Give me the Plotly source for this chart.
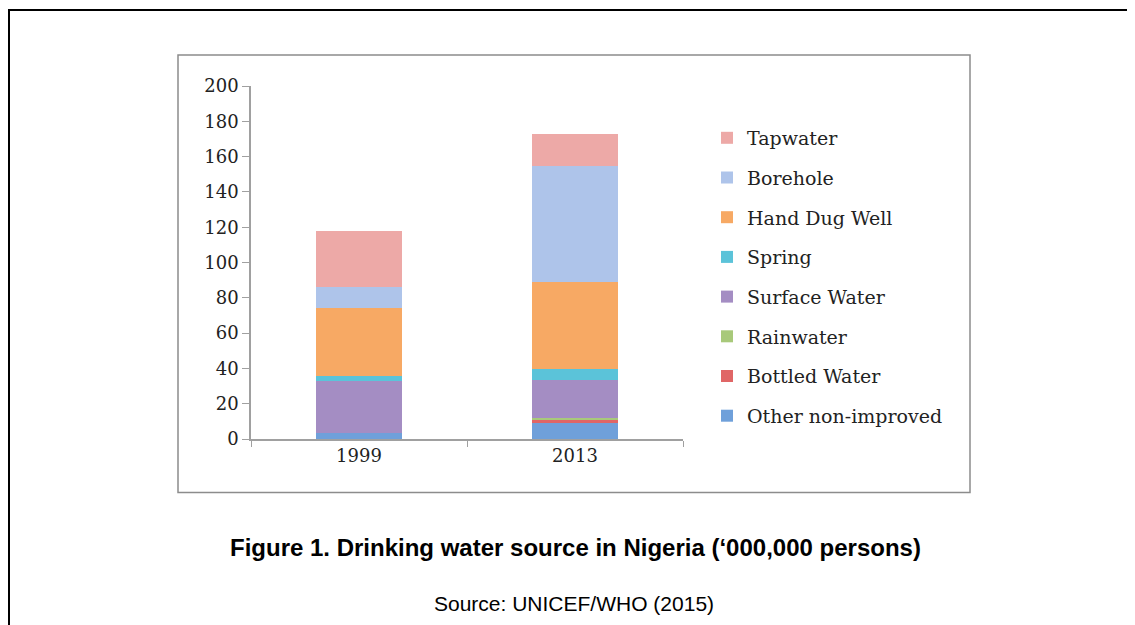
import plotly.graph_objects as go

years = ["1999", "2013"]
series_names = ["Other non-improved", "Bottled Water", "Rainwater", "Surface Water",
                "Spring", "Hand Dug Well", "Borehole", "Tapwater"]
other_non_improved = [3.5, 9.5]
bottled_water = [0.0, 1.0]
rainwater = [0.0, 1.5]
surface_water = [29.2, 21.7]
spring = [3.2, 6.2]
hand_dug_well = [38.3, 49.0]
borehole = [12.2, 65.8]
tapwater = [31.2, 18.1]
y_ticks = [0, 20, 40, 60, 80, 100, 120, 140, 160, 180, 200]

values = [other_non_improved, bottled_water, rainwater, surface_water,
          spring, hand_dug_well, borehole, tapwater]
colors = ["#6FA0DA", "#E06666", "#A8C97A", "#A48DC3",
          "#5BC3D9", "#F7A964", "#AEC4EA", "#EDA9A7"]

OFF = 8  # page body margin
W, H = 1135 - OFF, 625 - OFF
L, R, T, B = 251 - OFF, 683 - OFF, 86 - OFF, 439.5 - OFF

fig = go.Figure()
n = len(series_names)
for i, (name, vals, col) in enumerate(zip(series_names, values, colors)):
    fig.add_trace(go.Bar(x=years, y=vals, name=name, legendgroup=name,
                         legendrank=(n - i) * 10,
                         marker=dict(color=col, line=dict(width=0)), width=0.4))

def px_x(x):
    return (x - OFF - L) / (R - L)

def px_y(y):
    return (B - (y - OFF)) / (B - T)

shapes = [
    dict(type="rect", xref="paper", yref="paper", x0=px_x(178), x1=px_x(970),
         y0=px_y(493), y1=px_y(55), line=dict(color="#8C8C8C", width=1.5)),
    dict(type="line", xref="paper", yref="paper", x0=px_x(9), x1=px_x(9),
         y0=px_y(10), y1=px_y(660), line=dict(color="black", width=2)),
    dict(type="line", xref="paper", yref="paper", x0=px_x(8), x1=px_x(1160),
         y0=px_y(10), y1=px_y(10), line=dict(color="black", width=2)),
]

fig.update_layout(
    width=W, height=H,
    margin=dict(l=L, r=W - R, t=T, b=H - B, pad=0),
    paper_bgcolor="white", plot_bgcolor="white",
    barmode="stack",
    showlegend=True,
    legend=dict(x=px_x(707), xanchor="left", y=px_y(119), yanchor="top",
                traceorder="grouped", tracegroupgap=12,
                font=dict(family="DejaVu Serif", size=19, color="#222"),
                bgcolor="rgba(0,0,0,0)"),
    font=dict(family="DejaVu Serif", size=18, color="#222"),
    xaxis=dict(showline=True, linecolor="#A0A0A0", linewidth=1.5,
               ticks="outside", tickson="boundaries", ticklen=6, tickcolor="#A0A0A0",
               showgrid=False, tickfont=dict(family="DejaVu Serif", size=18, color="#222")),
    yaxis=dict(range=[0, 200], tickvals=y_ticks, showline=True, linecolor="#A0A0A0",
               linewidth=1.5, ticks="outside", ticklen=7, tickcolor="#A0A0A0",
               showgrid=False, zeroline=False,
               tickfont=dict(family="DejaVu Serif", size=18, color="#222")),
    shapes=shapes,
    annotations=[
        dict(text="<b>Figure 1. Drinking water source in Nigeria (‘000,000 persons)</b>",
             xref="paper", yref="paper", x=px_x(575), y=px_y(548), showarrow=False,
             xanchor="center", yanchor="middle",
             font=dict(family="Liberation Sans", size=24, color="black")),
        dict(text="Source: UNICEF/WHO (2015)",
             xref="paper", yref="paper", x=px_x(574), y=px_y(604), showarrow=False,
             xanchor="center", yanchor="middle",
             font=dict(family="Liberation Sans", size=21, color="black")),
    ],
)

fig.write_html("out.html")
